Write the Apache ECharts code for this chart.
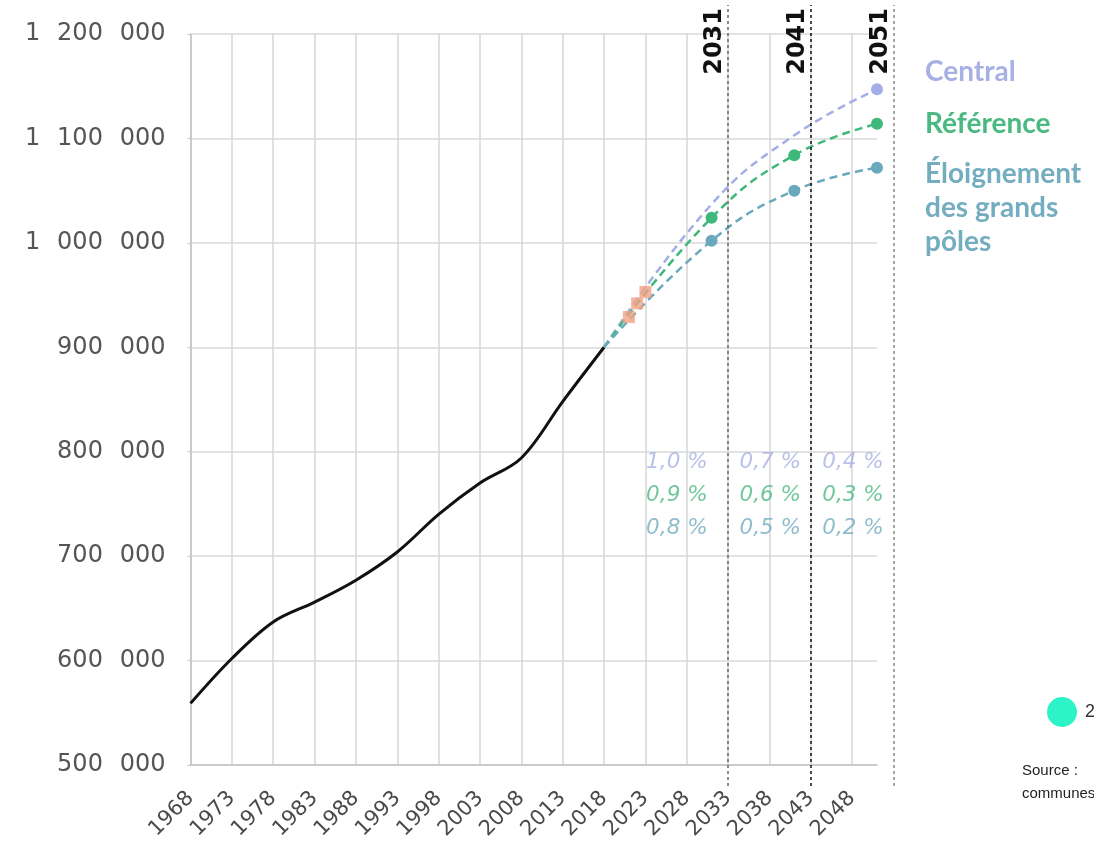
<!DOCTYPE html>
<html><head><meta charset="utf-8">
<script src="https://cdn.jsdelivr.net/npm/echarts@6/dist/echarts.min.js"></script>
<style>html,body{margin:0;padding:0;background:#fff}#c{width:1094px;height:845px}</style>
</head><body><div id="c"></div>
<script>
// ---- data ----
const histYears  = [1968,1973,1978,1983,1988,1993,1998,2003,2008,2013,2018];
const histValues = [559000,602000,637000,656000,677000,704000,740000,770000,794000,848000,900000];
const projYears = [2018,2031,2041,2051];
const centralValues     = [900000,1037000,1103000,1147000];
const referenceValues   = [900000,1024000,1084000,1114000];
const eloignementValues = [900000,1002000,1050000,1072000];
const estimYears  = [2021,2022,2023];
const estimValues = [929000,942000,953000];
const dividerYears  = [2033,2043,2053];
const dividerLabels = ['2031','2041','2051'];
const rateCentral     = ['1,0 %','0,7 %','0,4 %'];
const rateReference   = ['0,9 %','0,6 %','0,3 %'];
const rateEloignement = ['0,8 %','0,5 %','0,2 %'];
const scenarioNames = ['Central','Référence','Éloignement\ndes grands\npôles'];

// ---- layout (positions of the rate annotations, in axis units) ----
const rateX = [2026.8, 2038.1, 2048.1];
const rateY = [790000, 758600, 727000];

const C_CENTRAL = '#a3ade6', C_REF = '#3fb87b', C_ELO = '#6aa9bd';
const TXT_CENTRAL = '#a7b0e4', TXT_REF = '#4bb982', TXT_ELO = '#74adbf';

function fmtY(v){ return String(v).replace(/\B(?=(\d{3})+(?!\d))/g, '\u2002\u2009'); }
function pairs(xs, ys){ return xs.map((x,i)=>[x, ys[i]]); }

const chart = echarts.init(document.getElementById('c'), null, {renderer:'canvas'});

function rateSeries(labels, rowIdx, color){
  return {
    type:'scatter', xAxisIndex:0, yAxisIndex:0, symbolSize:0, silent:true, z:5,
    data: labels.map((t,i)=>({value:[rateX[i], rateY[rowIdx]], name:t})),
    label:{show:true, position:'inside', formatter:p=>p.name, color:color,
      fontFamily:'DejaVu Sans', fontStyle:'italic', fontSize:21.5}
  };
}

const option = {
  backgroundColor:'#fff',
  animation:false,
  grid:[
    {left:190.5, right:217, top:34, bottom:80, containLabel:false},
    {left:190.5, right:192.2, top:5, bottom:59, containLabel:false}
  ],
  xAxis:[
    {type:'value', gridIndex:0, min:1968, max:2051, interval:5,
     axisLine:{show:true, lineStyle:{color:'#c4c4c4', width:1.5}},
     axisTick:{show:false},
     splitLine:{show:true, showMaxLine:false, lineStyle:{color:'#d9d9d9', width:1.6}},
     axisLabel:{rotate:45, margin:30, fontFamily:'DejaVu Sans', fontSize:21, color:'#4a4a4a',
       formatter:v=> ((v-1968)%5===0 ? String(v) : ''), showMaxLabel:false}
    },
    {type:'value', gridIndex:1, min:1968, max:2054, show:false}
  ],
  yAxis:[
    {type:'value', gridIndex:0, min:500000, max:1200000, interval:100000,
     axisLine:{show:true, lineStyle:{color:'#c4c4c4', width:1.5}},
     axisTick:{show:true, length:3, lineStyle:{color:'#c4c4c4'}},
     splitLine:{show:true, lineStyle:{color:'#d9d9d9', width:1.6}},
     axisLabel:{margin:25, fontFamily:'DejaVu Sans', fontSize:24, color:'#555', formatter:fmtY}
    },
    {type:'value', gridIndex:1, min:0, max:1, show:false}
  ],
  series:[
    {type:'line', name:'hist', xAxisIndex:0, yAxisIndex:0, data:pairs(histYears, histValues),
     smooth:0.35, showSymbol:false, z:3,
     lineStyle:{color:'#111', width:3}},
    {type:'line', name:'Central', data:pairs(projYears, centralValues), smooth:0.45, z:4,
     symbol:(v,p)=> p.dataIndex===projYears.length-1 ? 'circle' : 'none', symbolSize:12, showSymbol:true,
     itemStyle:{color:C_CENTRAL}, lineStyle:{color:C_CENTRAL, width:2.5, type:[8,5]}},
    {type:'line', name:'Référence', data:pairs(projYears, referenceValues), smooth:0.45, z:4,
     symbol:(v,p)=> p.dataIndex>0 ? 'circle' : 'none', symbolSize:12, showSymbol:true,
     itemStyle:{color:C_REF}, lineStyle:{color:C_REF, width:2.5, type:[8,5]}},
    {type:'line', name:'Éloignement', data:pairs(projYears, eloignementValues), smooth:0.45, z:4,
     symbol:(v,p)=> p.dataIndex>0 ? 'circle' : 'none', symbolSize:12, showSymbol:true,
     itemStyle:{color:C_ELO}, lineStyle:{color:C_ELO, width:2.5, type:[8,5]}},
    {type:'scatter', name:'estim', data:pairs(estimYears, estimValues), symbol:'rect', symbolSize:12,
     z:6, itemStyle:{color:'#f3a385'}},
    rateSeries(rateCentral, 0, TXT_CENTRAL),
    rateSeries(rateReference, 1, TXT_REF),
    rateSeries(rateEloignement, 2, TXT_ELO),
    {type:'line', name:'dividers', xAxisIndex:1, yAxisIndex:1, data:[], silent:true, z:2,
     markLine:{symbol:'none', silent:true, animation:false,
       label:{show:true, position:'insideEndTop', distance:[3,1], fontFamily:'DejaVu Sans',
         fontWeight:'bold', fontSize:24, color:'#111'},
       data: dividerYears.map((x,i)=>({xAxis:x,
         label:{formatter:dividerLabels[i]},
         lineStyle:{type:[3,3], width:1.5, color:['#666','#111','#888'][i]}}))
     }}
  ],
  graphic:[
    {type:'text', x:925, y:72, style:{text:scenarioNames[0], font:'bold 28px Lato', fill:TXT_CENTRAL, verticalAlign:'middle'}},
    {type:'text', x:925, y:124, style:{text:scenarioNames[1], font:'bold 28px Lato', fill:TXT_REF, verticalAlign:'middle'}},
    {type:'text', x:925, y:157, style:{text:scenarioNames[2], font:'bold 28px Lato', fill:TXT_ELO, verticalAlign:'top', lineHeight:34}},
    {type:'circle', shape:{cx:1062, cy:712, r:15}, style:{fill:'#2cf4c8'}},
    {type:'text', x:1085, y:712, style:{text:'2', font:'18px "Liberation Sans"', fill:'#333', verticalAlign:'middle'}},
    {type:'text', x:1022, y:771, style:{text:'Source :', font:'15px "Liberation Sans"', fill:'#222', verticalAlign:'middle'}},
    {type:'text', x:1022, y:794, style:{text:'communes', font:'15px "Liberation Sans"', fill:'#222', verticalAlign:'middle'}}
  ]
};
chart.setOption(option);
</script>
</body></html>
